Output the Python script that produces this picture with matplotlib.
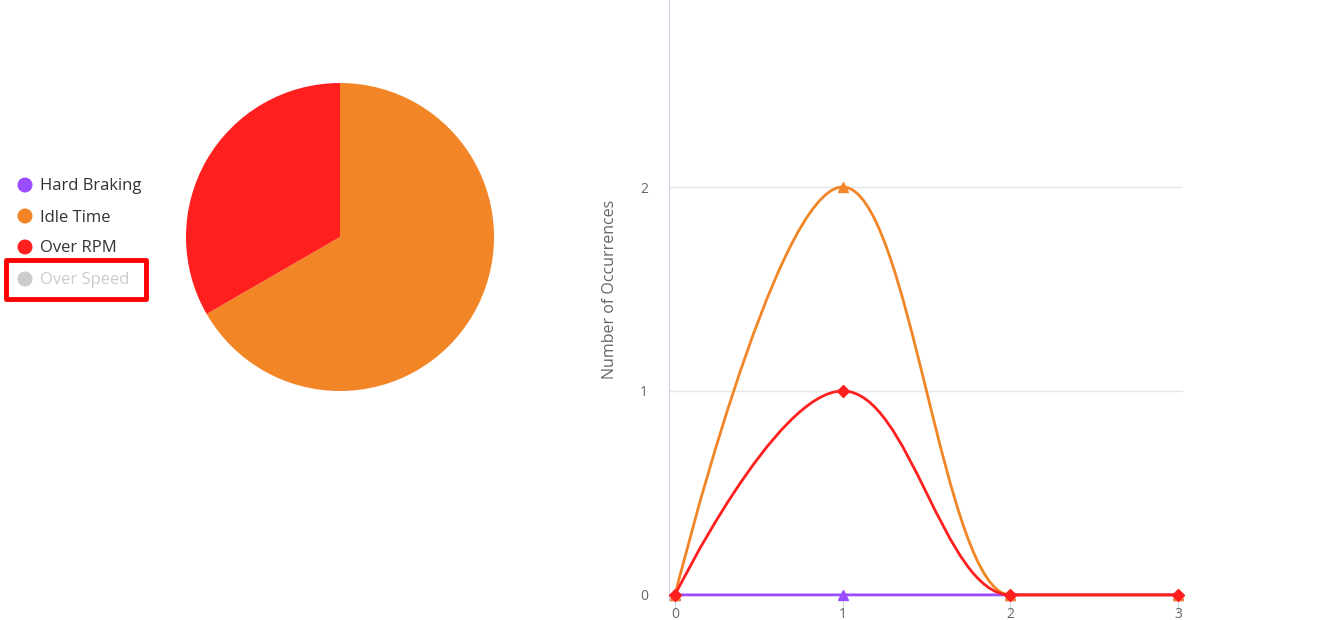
import numpy as np
import matplotlib.pyplot as plt
from matplotlib.path import Path
from matplotlib.patches import PathPatch, Rectangle, Circle

plt.rcParams['font.family'] = ['Open Sans', 'DejaVu Sans']

# data
categories = ['Hard Braking', 'Idle Time', 'Over RPM', 'Over Speed']
colors = ['#9a4dff', '#f28526', '#ff1f1f', '#cccccc']
pie_values = [0, 2, 1, 0]
hidden = [False, False, False, True]

x_vals = [0, 1, 2, 3]
hard_braking = [0, 0, 0, 0]
idle_time = [0, 2, 0, 0]
over_rpm = [0, 1, 0, 0]
y_ticks = [0, 1, 2]


def spline_path(xs, ys, smoothing=1.5):
    # bezier path like highcharts' "spline" series
    n = len(xs)
    left = [None] * n
    right = [None] * n
    d = smoothing + 1
    for i in range(1, n - 1):
        px, py = xs[i], ys[i]
        lx, ly = xs[i - 1], ys[i - 1]
        nx, ny = xs[i + 1], ys[i + 1]
        lcx = (smoothing * px + lx) / d
        lcy = (smoothing * py + ly) / d
        rcx = (smoothing * px + nx) / d
        rcy = (smoothing * py + ny) / d
        if rcx != lcx:
            corr = (rcy - lcy) * (rcx - px) / (rcx - lcx) + py - rcy
            lcy += corr
            rcy += corr
        if lcy > ly and lcy > py:
            lcy = max(ly, py)
            rcy = 2 * py - lcy
        elif lcy < ly and lcy < py:
            lcy = min(ly, py)
            rcy = 2 * py - lcy
        if rcy > ny and rcy > py:
            rcy = max(ny, py)
            lcy = 2 * py - rcy
        elif rcy < ny and rcy < py:
            rcy = min(ny, py)
            lcy = 2 * py - rcy
        left[i] = (lcx, lcy)
        right[i] = (rcx, rcy)
    verts = [(xs[0], ys[0])]
    codes = [Path.MOVETO]
    for i in range(1, n):
        c1 = right[i - 1] or (xs[i - 1], ys[i - 1])
        c2 = left[i] or (xs[i], ys[i])
        verts += [c1, c2, (xs[i], ys[i])]
        codes += [Path.CURVE4] * 3
    return Path(verts, codes)


W, H = 1321, 620
fig = plt.figure(figsize=(W / 100, H / 100), dpi=100)

# pie
r = 154
cx, cy = 340, 237
pax = fig.add_axes([(cx - r) / W, (H - cy - r) / H, 2 * r / W, 2 * r / H])
vals = [v for v, h in zip(pie_values, hidden) if v > 0 and not h]
cols = [c for v, h, c in zip(pie_values, hidden, colors) if v > 0 and not h]
pax.pie(vals, colors=cols, startangle=90, counterclock=False,
        wedgeprops=dict(linewidth=0))
pax.set_xlim(-1, 1)
pax.set_ylim(-1, 1)

# line chart
left_px, right_px, top_px, bottom_px = 669, 1183, 0, 601
ax = fig.add_axes([left_px / W, (H - bottom_px) / H,
                   (right_px - left_px) / W, (bottom_px - top_px) / H])
series = [(hard_braking, colors[0], '^'), (idle_time, colors[1], '^'),
          (over_rpm, colors[2], 'D')]
for z, (ys, col, mk) in enumerate(series):
    ax.add_patch(PathPatch(spline_path(x_vals, ys), fill=False, edgecolor=col,
                           linewidth=2, zorder=2 + z, clip_on=False))
    ax.plot(x_vals, ys, linestyle='none', marker=mk, color=col,
            markersize=7 if mk == '^' else 6, zorder=2.5 + z, clip_on=False)

ax.set_xlim(-0.036, 3.03)
ax.set_ylim(-0.03, 2.917)
ax.set_yticks(y_ticks)
ax.set_xticks(x_vals)
ax.grid(axis='y', color='#e6e6e6', linewidth=1)
ax.set_axisbelow(True)
for s in ['top', 'right', 'bottom']:
    ax.spines[s].set_visible(False)
ax.spines['left'].set_color('#ccd6eb')
ax.tick_params(axis='y', length=0, pad=15, labelsize=10, labelcolor='#666666')
ax.tick_params(axis='x', length=8, color='#ccd6eb', pad=-4, labelsize=10,
               labelcolor='#666666')
ax.set_ylabel('Number of Occurrences', fontsize=11.5, color='#666666')
ax.yaxis.set_label_coords(-0.099, 0.519)

# legend (overlay in pixel coords)
ov = fig.add_axes([0, 0, 1, 1])
ov.set_xlim(0, W)
ov.set_ylim(H, 0)
ov.axis('off')
leg_y = [185, 216, 247, 279]
for name, col, h, y in zip(categories, colors, hidden, leg_y):
    ov.add_patch(Circle((25, y), 7.5, color='#cccccc' if h else col, linewidth=0))
    ov.text(40, y + 1.5, name, fontsize=12, va='center', ha='left',
            color='#cccccc' if h else '#333333')
ov.add_patch(Rectangle((6, 260), 140, 39, fill=False, edgecolor='#ff0000',
                       linewidth=3.5, joinstyle='round'))

fig.savefig('out.png', dpi=100)
